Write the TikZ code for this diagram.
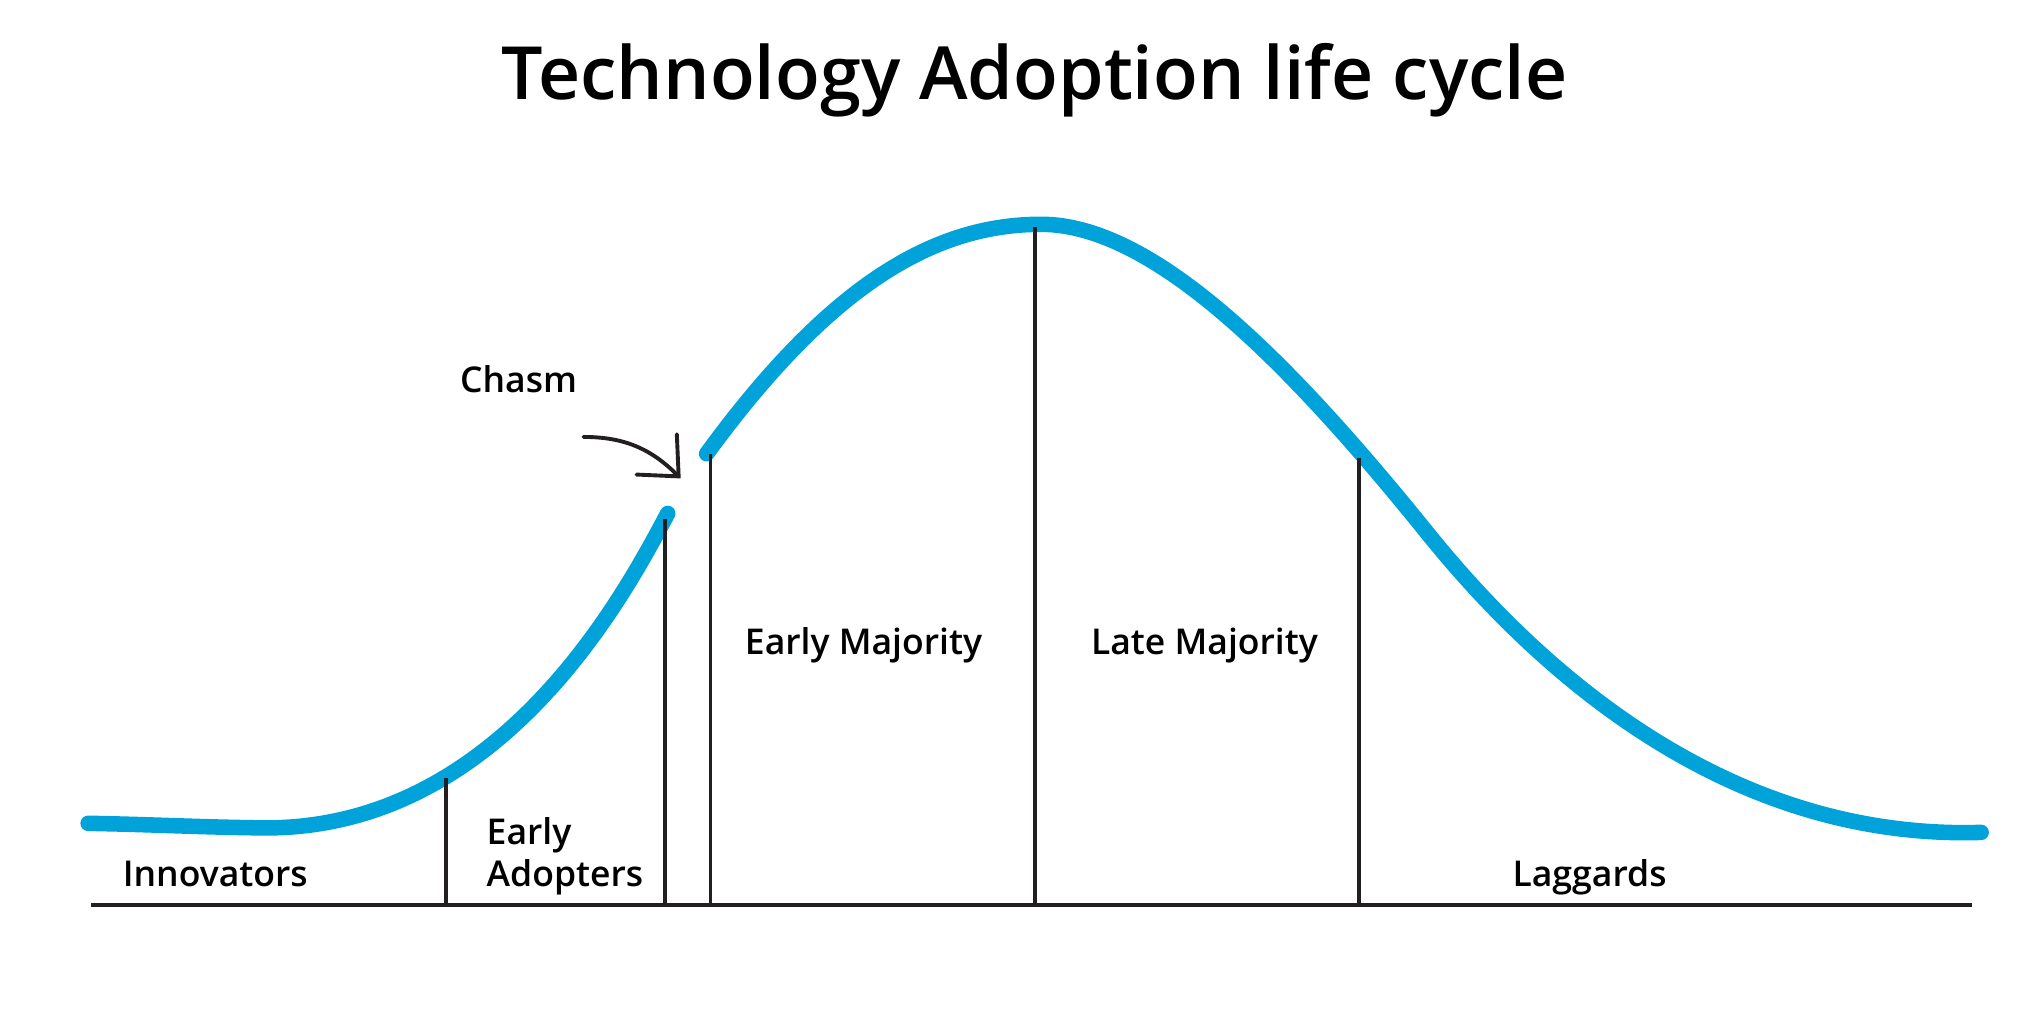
\documentclass[tikz,border=0pt]{standalone}
\usepackage{fontspec}
\setmainfont{Open Sans}
\IfFontExistsTF{Open Sans Semibold}{%
  \newfontfamily\semibold{Open Sans Semibold}%
}{%
  \newfontfamily\semibold{Open Sans}[FakeBold=2]%
}
\usetikzlibrary{arrows.meta,positioning}

\definecolor{curveblue}{RGB}{0,163,217}
\definecolor{inkblack}{RGB}{35,31,32}

\begin{document}
\begin{tikzpicture}[
    x=0.5pt,
    y=-0.5pt,
    bellcurve/.style={
        draw=curveblue,
        line width=6pt,
        line cap=round,
        line join=round
    },
    divider/.style={
        draw=inkblack,
        line width=1.5pt
    },
    axisline/.style={
        draw=inkblack,
        line width=1.6pt
    },
    phase/.style={
        font=\semibold\fontsize{13.7}{16.5}\selectfont,
        text=black,
        inner sep=0pt,
        anchor=base
    },
    heading/.style={
        font=\semibold\fontsize{28.3}{32}\selectfont,
        text=black,
        inner sep=0pt,
        anchor=base
    },
    pointer/.style={
        draw=inkblack,
        line width=1.5pt,
        line cap=round,
        -{Straight Barb[length=12pt, width=22pt, line cap=round]}
    }
]
    \useasboundingbox (0,0) rectangle (1568,785);

    % --- Title ---
    \node [heading] (title) at (798,77) {Technology Adoption life cycle};

    % --- Curve, split at the chasm ---
    \draw [bellcurve] (68,635)
        .. controls (120,636) and (150,637.8) .. (200,638.5)
        .. controls (385,642) and (482,458) .. (515,396);
    \draw [bellcurve] (545,350)
        .. controls (640,220) and (720,173) .. (803,173)
        .. controls (890,173) and (995,280) .. (1100,410)
        .. controls (1190,522) and (1335,648) .. (1528,642);

    % --- Axis and dividers ---
    \coordinate (axisL) at (70,698);
    \coordinate (axisR) at (1521,698);
    \draw [axisline] (axisL) -- (axisR);

    \foreach \name/\xpos/\ytop in {innov/344/600, early/513/400, chasm/548/350, peak/798/175, late/1048/353} {
        \coordinate (\name top) at (\xpos,\ytop);
        \coordinate (\name foot) at (\xpos,698);
        \draw [divider] (\name foot) -- (\name top);
    }

    % --- Segment labels ---
    \node [phase] (innovators) at (166,684) {Innovators};
    \node [phase, anchor=base west, align=left] (adopters) at (375,684) {Early\\Adopters};
    \node [phase] (earlymaj) at (666,505) {Early Majority};
    \node [phase] (latemaj) at (929,505) {Late Majority};
    \node [phase] (laggards) at (1226,684) {Laggards};

    % --- Chasm pointer ---
    \node [phase] (chasm) at (400,303) {Chasm};
    \coordinate (chasmfrom) at (450,337);
    \coordinate (chasmtip) at (525,369);
    \draw [pointer] (chasmfrom) to [out=0, in=135] (chasmtip);

\end{tikzpicture}
\end{document}
